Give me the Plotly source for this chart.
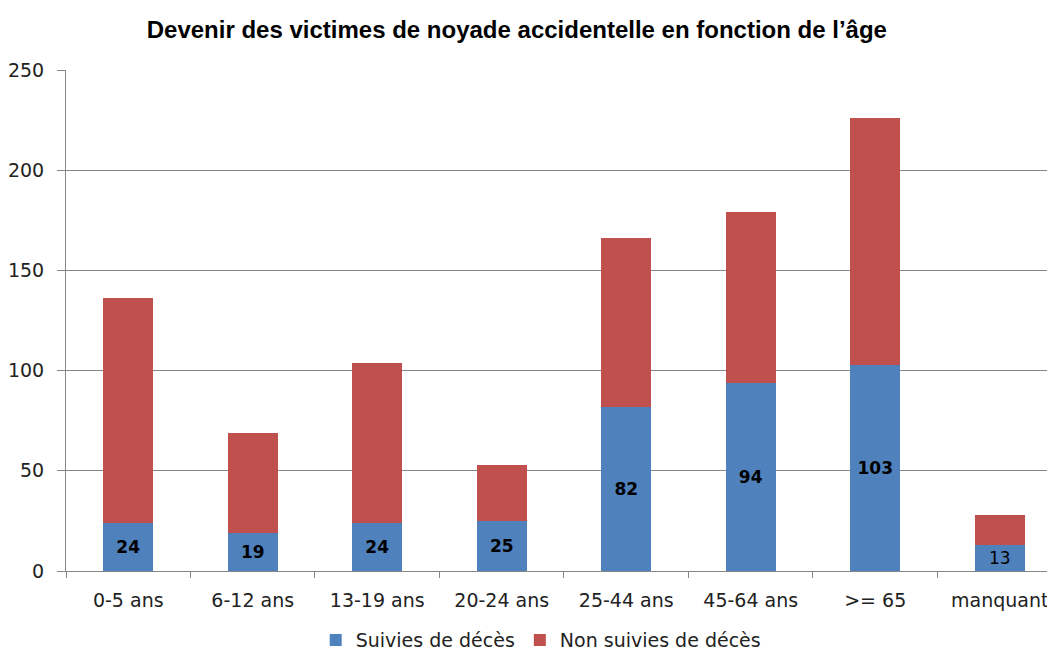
import plotly.graph_objects as go

categories = ["0-5 ans", "6-12 ans", "13-19 ans", "20-24 ans", "25-44 ans", "45-64 ans", ">= 65", "manquant"]
suivies = [24, 19, 24, 25, 82, 94, 103, 13]
non_suivies = [112, 50, 80, 28, 84, 85, 123, 15]
bold_labels = [True, True, True, True, True, True, True, False]
y_ticks = [0, 50, 100, 150, 200, 250]

BLUE = "#4F81BD"
RED = "#C0504D"
FONT = "DejaVu Sans"
TXT = "#222222"

labels = [f"<b>{v}</b>" if b else str(v) for v, b in zip(suivies, bold_labels)]

fig = go.Figure()
fig.add_trace(go.Bar(
    x=categories, y=suivies, name="Suivies de décès",
    marker=dict(color=BLUE, line=dict(width=0)),
    text=labels, texttemplate="%{text}", textposition="inside",
    insidetextanchor="middle", textangle=0,
    textfont=dict(family=FONT, size=17, color="black"),
    width=0.4,
))
fig.add_trace(go.Bar(
    x=categories, y=non_suivies, name="Non suivies de décès",
    marker=dict(color=RED, line=dict(width=0)),
    width=0.4, hoverinfo="y",
))

# page body has an 8px default margin, so the figure is offset by 8px
fig.update_layout(
    barmode="stack",
    width=1047, height=645,
    paper_bgcolor="white", plot_bgcolor="white",
    margin=dict(l=58, r=0, t=62, b=82, autoexpand=False),
    title=dict(
        text="<b>Devenir des victimes de noyade accidentelle en fonction de l\u2019âge</b>",
        x=0.486, xanchor="center", y=0.966, yanchor="middle",
        font=dict(family="Liberation Sans, Arial", size=24, color="black"),
    ),
    font=dict(family=FONT, size=19, color=TXT),
    legend=dict(
        orientation="h", x=0.48, xanchor="center", y=-0.138, yanchor="middle",
        font=dict(family=FONT, size=19, color=TXT),
        itemwidth=30, traceorder="normal",
    ),
)
fig.update_xaxes(
    type="category", range=[-0.5, 7.444], automargin=False,
    showline=True, linecolor="#868686", linewidth=1,
    ticks="outside", ticklen=6, tickcolor="#868686", tickson="boundaries",
    tickfont=dict(family=FONT, size=19, color=TXT),
    ticklabelstandoff=12,
    showgrid=False,
)
fig.update_yaxes(
    range=[0, 250], tickvals=y_ticks, automargin=False,
    showline=True, linecolor="#868686", linewidth=1,
    ticks="outside", ticklen=8, tickcolor="#868686",
    showgrid=True, gridcolor="#868686", gridwidth=1,
    zeroline=False,
    tickfont=dict(family=FONT, size=19, color=TXT),
    ticklabelstandoff=9,
)

fig.write_html("out.html")
